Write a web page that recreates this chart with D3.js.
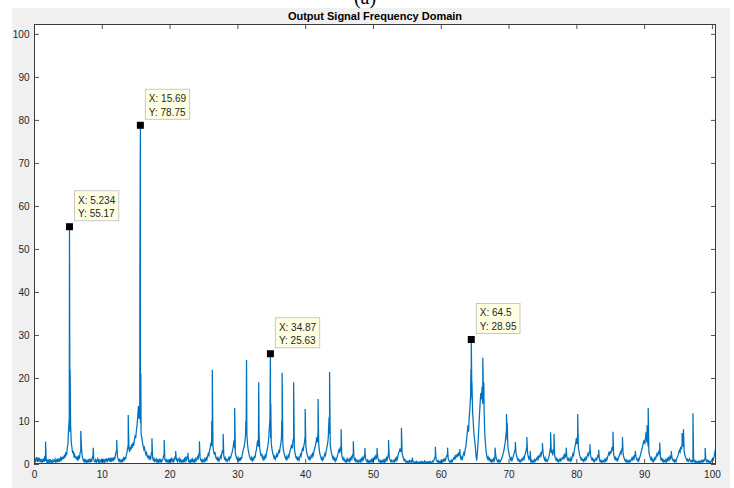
<!DOCTYPE html>
<html>
<head>
<meta charset="utf-8">
<script src="https://cdn.jsdelivr.net/npm/d3@7"></script>
<style>
  body { margin: 0; background: #ffffff; }
  svg { display: block; }
</style>
</head>
<body>
<script>
// Spectrum floor: amplitude sampled every 0.1 Hz, 0 .. 100.6 Hz (one row per Hz)
const floorStep = 0.1;
const floorAmp = [
  0.6,1.3,0.4,1.1,1.6,0.5,1.2,0.8,1.4,0.6,
  0.9,0.4,1.2,0.6,1.0,0.5,1.9,0.7,1.1,0.4,
  0.8,0.3,0.9,0.5,1.1,0.4,0.7,0.3,0.9,0.5,
  0.6,1.1,0.4,0.9,0.6,1.3,0.5,1.0,0.7,1.4,
  0.9,1.6,1.0,1.8,1.2,2.2,1.5,2.8,2.0,3.6,
  4.5,8.0,10.5,7.5,9.0,5.0,3.8,2.5,3.0,1.8,
  2.2,1.3,1.8,1.0,1.5,0.8,2.0,1.2,2.6,3.2,
  4.0,2.0,1.2,0.7,1.0,0.5,0.9,0.4,0.8,0.5,
  0.9,0.4,1.2,0.6,1.0,0.5,1.4,2.0,1.1,0.6,
  0.5,1.0,0.4,0.8,1.2,0.5,0.9,0.3,0.7,1.0,
  0.6,1.2,0.5,0.9,0.4,1.0,0.7,1.3,0.6,0.9,
  1.4,0.6,1.1,0.5,1.5,0.8,1.2,0.7,1.6,1.0,
  2.0,2.8,3.2,1.8,1.2,0.7,1.0,0.5,0.9,0.6,
  1.0,0.6,1.3,0.8,1.6,1.1,2.0,2.6,3.5,4.5,
  3.6,2.8,4.0,3.3,4.6,3.8,5.0,4.2,5.5,6.4,
  6.0,7.8,9.0,11.0,13.5,10.5,12.0,9.5,7.0,6.2,
  5.0,4.2,3.4,3.8,2.8,2.2,2.6,1.8,1.5,2.0,
  1.2,1.6,1.0,2.4,3.0,1.5,0.9,1.3,0.7,1.0,
  0.6,1.1,0.5,0.9,0.4,1.0,0.6,1.2,0.5,0.8,
  1.0,1.8,2.4,1.2,0.7,1.0,0.5,0.8,0.4,0.9,
  0.6,1.0,0.5,1.2,0.7,1.1,0.5,1.0,1.6,1.3,
  0.7,1.1,0.5,0.9,1.3,0.6,1.0,0.4,0.8,0.5,
  0.9,0.5,1.2,0.7,1.4,1.0,1.8,1.3,0.7,0.4,
  0.8,0.4,1.0,0.6,1.1,0.5,0.9,0.5,1.2,0.7,
  1.1,1.6,1.0,2.2,2.8,1.4,0.9,0.6,1.0,0.5,
  0.9,0.6,1.2,0.8,1.4,1.0,1.8,2.4,2.0,3.2,
  3.8,5.0,4.2,6.5,4.0,3.0,2.2,2.8,1.6,1.2,
  1.5,0.9,1.3,0.7,1.2,1.8,1.4,2.4,3.2,2.5,
  1.8,1.2,1.5,0.8,1.1,0.6,1.0,1.4,0.9,1.6,
  1.4,2.0,2.6,3.2,4.2,5.5,3.6,2.6,1.8,1.3,
  1.0,1.5,0.8,1.2,0.7,1.6,1.1,2.0,2.8,3.5,
  4.0,5.2,6.5,9.5,7.0,4.5,3.2,2.4,1.8,1.2,
  1.0,1.5,0.8,1.3,1.0,1.9,1.4,2.6,3.2,4.5,
  5.5,4.0,7.0,3.6,2.6,1.8,2.4,1.4,1.0,1.6,
  1.2,2.0,1.6,2.6,3.4,4.2,5.5,8.0,10.5,6.0,
  4.8,3.5,2.6,2.0,1.4,1.8,1.1,1.6,2.2,1.6,
  2.4,3.0,2.5,3.8,4.6,6.0,8.5,4.8,3.2,2.4,
  1.8,1.3,1.7,1.0,1.4,2.0,1.6,2.6,3.2,3.8,
  4.5,3.6,5.5,6.0,3.8,2.6,1.8,1.3,1.6,1.0,
  1.4,0.9,1.6,2.2,1.8,2.8,3.5,3.0,4.2,5.0,
  6.5,4.2,3.0,2.2,1.6,1.2,1.6,1.0,1.4,2.0,
  1.6,2.4,2.0,3.0,3.6,4.2,5.0,6.2,5.0,7.5,
  4.5,3.0,2.2,1.6,1.1,1.5,0.9,1.3,1.8,2.4,
  2.0,3.0,3.8,4.6,6.0,10.0,7.0,4.5,3.2,2.4,
  1.8,1.2,1.6,0.9,1.3,0.7,1.1,1.6,2.2,2.8,
  3.5,2.6,4.0,3.0,2.0,1.4,1.0,1.4,0.8,0.5,
  0.9,0.5,1.2,0.7,1.0,0.6,1.4,0.9,1.6,1.2,
  2.0,2.5,1.4,0.9,1.2,0.6,0.9,0.5,0.8,0.4,
  0.7,1.0,0.5,1.2,0.8,1.5,1.1,1.8,2.2,1.2,
  0.8,0.5,0.9,0.4,0.7,0.3,0.8,0.5,1.0,0.6,
  1.2,0.8,1.5,1.0,1.8,1.4,2.4,1.6,1.0,0.6,
  0.9,0.4,0.7,0.3,0.8,0.5,0.9,0.4,1.1,0.7,
  1.4,1.0,1.8,2.6,1.6,1.0,0.6,0.9,0.5,0.7,
  0.5,0.9,0.6,1.2,0.8,1.5,1.1,2.0,2.6,3.0,
  3.6,2.8,4.0,2.6,1.8,1.2,0.8,1.1,0.6,0.4,
  0.7,0.4,0.6,0.3,0.8,0.5,0.7,0.4,1.2,0.6,
  0.4,0.2,0.5,0.3,0.6,0.2,0.4,0.3,0.5,0.2,
  0.4,0.6,0.3,0.5,0.2,0.4,0.7,0.3,0.5,0.3,
  0.5,0.2,0.4,0.6,0.3,0.5,0.2,0.4,0.7,0.5,
  0.9,1.4,1.8,1.2,0.7,0.5,0.8,0.4,0.6,0.3,
  0.6,0.4,0.8,0.5,1.0,0.7,1.2,0.9,1.6,2.0,
  1.8,1.2,0.8,0.5,0.7,0.4,0.9,0.6,1.0,1.4,
  1.2,1.8,1.4,2.2,1.6,2.4,1.8,2.8,2.0,1.5,
  1.1,1.6,1.2,2.0,2.6,2.2,3.4,4.0,5.5,7.0,
  9.0,7.5,11.0,13.0,16.0,18.5,15.0,12.0,9.5,7.0,
  5.5,4.0,2.0,0.8,2.5,5.0,8.0,11.0,14.0,16.5,
  15.0,18.0,14.0,16.0,12.0,7.0,4.5,2.8,1.8,1.2,
  1.6,1.0,1.3,0.7,1.0,0.5,0.9,0.6,1.2,0.8,
  1.6,2.2,1.2,0.8,0.5,0.9,0.4,0.8,0.6,1.0,
  1.3,1.8,2.4,3.0,4.0,5.0,6.5,8.0,5.5,4.0,
  3.0,2.2,1.5,1.0,1.4,0.8,1.2,1.8,2.4,3.0,
  3.5,2.6,1.8,1.2,0.8,1.1,0.6,0.9,0.5,0.8,
  1.2,0.9,1.5,1.2,2.0,2.6,3.2,4.0,2.6,1.8,
  1.2,1.6,0.8,0.5,0.8,0.4,0.7,0.5,1.0,0.6,
  0.9,1.3,1.0,1.6,1.2,2.0,1.5,2.4,2.0,2.8,
  3.2,2.4,1.6,1.0,1.4,0.7,1.0,0.6,0.9,1.4,
  2.0,3.0,4.0,2.6,3.4,2.0,2.8,3.6,2.0,1.3,
  0.9,1.3,0.7,1.0,0.5,0.8,1.2,0.7,1.0,1.4,
  1.2,1.8,1.4,2.2,1.8,2.6,1.6,1.0,1.3,0.8,
  1.1,0.7,1.4,1.0,1.8,2.4,2.0,3.2,4.0,4.8,
  6.0,4.6,7.0,3.8,2.8,2.0,1.5,1.0,1.3,0.8,
  1.0,0.6,1.2,0.9,1.5,1.2,1.9,2.4,2.0,2.8,
  3.0,2.0,1.4,1.0,1.3,0.7,1.0,0.6,0.9,1.3,
  1.0,1.6,2.2,1.5,1.0,0.6,0.9,0.4,0.7,0.5,
  0.8,0.5,1.0,0.7,1.3,0.9,1.6,2.0,2.6,2.2,
  3.0,2.4,3.4,4.0,3.0,2.2,1.6,1.1,1.5,0.9,
  1.2,0.8,1.4,1.8,2.2,2.8,2.4,3.4,4.0,2.4,
  1.6,1.1,0.7,1.0,0.5,0.8,0.4,0.7,0.5,0.9,
  0.6,1.0,1.4,1.0,1.6,1.2,2.0,2.4,1.6,1.1,
  0.8,1.2,0.7,1.3,1.8,2.4,3.0,3.6,4.4,5.0,
  5.6,4.6,6.0,7.5,5.0,6.0,4.0,2.8,2.0,1.5,
  1.0,1.4,0.7,1.1,0.6,1.0,1.5,1.2,1.9,2.4,
  2.0,2.6,3.0,2.2,1.6,1.0,1.3,0.7,1.0,0.5,
  0.8,0.5,1.0,0.6,1.2,0.8,1.4,1.0,1.7,1.3,
  2.0,1.5,1.0,0.7,1.0,0.5,0.9,0.6,1.2,1.6,
  2.0,2.6,3.2,2.8,4.0,3.4,4.6,5.0,4.0,3.0,
  2.2,1.6,1.2,0.8,1.1,0.6,0.9,1.2,0.7,0.5,
  0.8,0.5,1.0,0.7,0.5,0.8,0.4,0.6,0.3,0.5,
  0.4,0.7,0.3,0.6,0.4,0.8,0.5,0.9,0.6,1.0,
  1.4,1.0,0.6,0.9,0.5,0.7,0.4,0.6,0.3,0.7,
  0.9,1.3,1.0,1.6,2.4,3.2,4.6
];

// Narrow spectral lines on top of the floor
const peakFreq = [1.7, 5.234, 5.33, 6.9, 8.75, 12.2, 13.9, 15.62, 15.69, 15.76,
  17.4, 19.2, 20.9, 22.7, 24.4, 26.22, 26.3, 27.9, 29.6, 31.25, 31.35, 33.15,
  34.87, 34.93, 36.55, 36.6, 38.3, 40.0, 41.9, 43.55, 43.6, 45.3, 47.1, 48.8,
  50.6, 52.3, 54.2, 55.8, 59.2, 61.0, 62.8, 64.45, 64.5, 64.6, 66.2, 66.35,
  68.0, 69.7, 69.8, 71.0, 72.7, 73.2, 75.0, 76.2, 76.7, 78.5, 80.2, 82.0,
  83.3, 85.4, 86.8, 88.7, 90.45, 90.6, 92.3, 94.0, 95.6, 95.8, 97.2, 99.0];
const peakAmp = [5.2, 55.17, 21.9, 7.7, 3.8, 5.6, 11.4, 45.0, 78.75, 21.0,
  6.0, 5.6, 3.0, 2.6, 5.3, 10.0, 21.9, 7.0, 13.0, 10.0, 24.2, 19.0,
  25.63, 14.0, 10.0, 21.2, 19.0, 12.8, 15.1, 11.0, 21.4, 8.1, 5.3, 3.7,
  3.7, 5.6, 8.4, 1.5, 4.0, 3.8, 3.5, 22.0, 28.95, 19.0, 24.7, 19.0,
  3.8, 11.6, 9.5, 5.1, 6.3, 3.0, 4.9, 7.4, 7.0, 3.8, 11.6, 4.6,
  3.3, 7.5, 6.3, 3.0, 9.0, 13.0, 5.0, 3.0, 7.2, 8.1, 11.8, 3.7];

// Data tips
const tipFreq = [5.234, 15.69, 34.87, 64.5];
const tipAmp = [55.17, 78.75, 25.63, 28.95];

const xTicks = [0, 10, 20, 30, 40, 50, 60, 70, 80, 90, 100];
const yTicks = [0, 10, 20, 30, 40, 50, 60, 70, 80, 90, 100];
const xLimit = [0, 100.6];
const yLimit = [0, 102.3];
const titleText = "Output Signal Frequency Domain";
const panelLabel = "(a)";

const W = 734, H = 488;
const plot = { left: 34, right: 716, top: 24, bottom: 464 };
const axisColor = "#262626";
const lineColor = "#0072bd";
const font = "'Liberation Sans', Arial, Helvetica, sans-serif";

const svg = d3.select("body").append("svg").attr("width", W).attr("height", H);

// figure background
svg.append("rect").attr("x", 12).attr("y", 8).attr("width", 718).attr("height", H - 8)
  .attr("fill", "#f0f0f0");

const x = d3.scaleLinear().domain(xLimit).range([plot.left, plot.right]);
const y = d3.scaleLinear().domain(yLimit).range([plot.bottom, plot.top]);

// axes face
svg.append("rect").attr("x", plot.left).attr("y", plot.top)
  .attr("width", plot.right - plot.left).attr("height", plot.bottom - plot.top)
  .attr("fill", "#ffffff");

svg.append("clipPath").attr("id", "plotClip").append("rect")
  .attr("x", plot.left).attr("y", plot.top)
  .attr("width", plot.right - plot.left).attr("height", plot.bottom - plot.top);

// merge floor samples and spectral lines into one trace ordered by frequency
const trace = floorAmp.map((a, i) => [+(i * floorStep).toFixed(1), a])
  .concat(peakFreq.map((f, i) => [f, peakAmp[i]]))
  .sort((a, b) => a[0] - b[0]);

const line = d3.line().x(d => x(d[0])).y(d => y(d[1]));
svg.append("path").datum(trace)
  .attr("clip-path", "url(#plotClip)")
  .attr("d", line)
  .attr("fill", "none")
  .attr("stroke", lineColor)
  .attr("stroke-width", 1.25)
  .attr("stroke-linejoin", "miter");

// axes (MATLAB-style: ticks inside, box on)
function styleAxis(g) {
  g.select(".domain").remove();
  g.selectAll(".tick line").attr("stroke", axisColor).attr("stroke-width", 0.8);
  g.selectAll(".tick text").attr("fill", axisColor)
    .style("font-family", font).style("font-size", "10px");
}

svg.append("g").attr("transform", `translate(0,${plot.bottom})`)
  .call(d3.axisBottom(x).tickValues(xTicks).tickSizeInner(-5).tickSizeOuter(0).tickPadding(7))
  .call(styleAxis);
svg.append("g").attr("transform", `translate(0,${plot.top})`)
  .call(d3.axisTop(x).tickValues(xTicks).tickSizeInner(-5).tickSizeOuter(0).tickFormat(""))
  .call(styleAxis);
svg.append("g").attr("transform", `translate(${plot.left},0)`)
  .call(d3.axisLeft(y).tickValues(yTicks).tickSizeInner(-5).tickSizeOuter(0).tickPadding(4.5))
  .call(styleAxis);
svg.append("g").attr("transform", `translate(${plot.right},0)`)
  .call(d3.axisRight(y).tickValues(yTicks).tickSizeInner(-5).tickSizeOuter(0).tickFormat(""))
  .call(styleAxis);

svg.append("rect").attr("x", plot.left + 0.5).attr("y", plot.top + 0.5)
  .attr("width", plot.right - plot.left - 1).attr("height", plot.bottom - plot.top - 1)
  .attr("fill", "none").attr("stroke", "#3a3a3a").attr("stroke-width", 1);

// title and panel label (the label sits at the very top edge of the figure)
svg.append("text").attr("x", (plot.left + plot.right) / 2).attr("y", 19.5)
  .attr("text-anchor", "middle").attr("fill", "#000")
  .style("font-family", font).style("font-size", "11px").style("font-weight", "bold")
  .text(titleText);
svg.append("text").attr("x", 365).attr("y", 4)
  .attr("text-anchor", "middle").attr("fill", "#000")
  .style("font-family", "'Liberation Serif', 'Times New Roman', serif").style("font-size", "20px")
  .text(panelLabel);

// data tips: marker plus label box
tipFreq.forEach((f, i) => {
  const mx = x(f), my = y(tipAmp[i]);
  const g = svg.append("g");
  const box = g.append("rect");
  const lines = [`X: ${f}`, `Y: ${tipAmp[i]}`];
  const texts = lines.map((s, k) => g.append("text")
    .attr("x", mx + 8.5).attr("y", my - 6 - 30 + 13 + k * 13.3)
    .attr("fill", "#262626")
    .style("font-family", font).style("font-size", "10px")
    .text(s));
  const wMax = d3.max(texts, t => t.node().getComputedTextLength());
  box.attr("x", mx + 5).attr("y", my - 36)
    .attr("width", wMax + 7).attr("height", 30)
    .attr("fill", "#ffffe1").attr("stroke", "#c8c8c8").attr("stroke-width", 1);
  g.append("rect").attr("x", mx - 3.5).attr("y", my - 3.5)
    .attr("width", 7).attr("height", 7).attr("fill", "#000");
});
</script>
</body>
</html>
